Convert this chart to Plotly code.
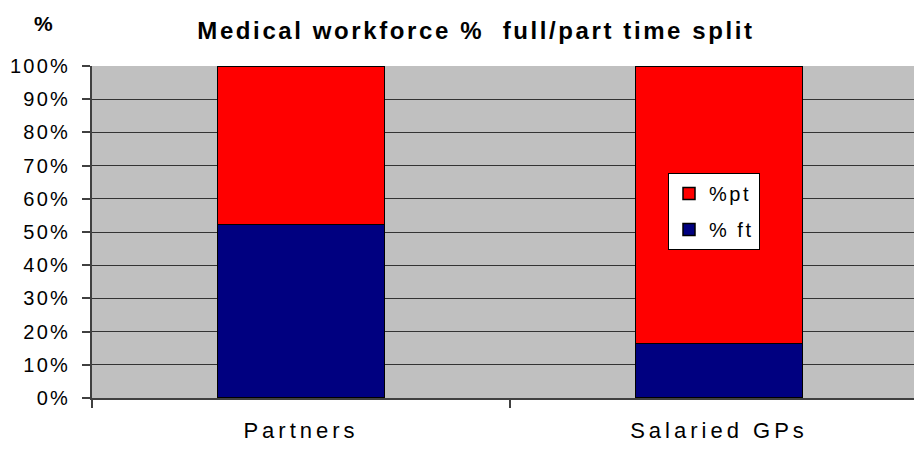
import plotly.graph_objects as go

categories = ["Partners", "Salaried GPs"]
pct_ft = [0.523, 0.164]
pct_pt = [0.477, 0.836]
y_tick_values = [0, 0.1, 0.2, 0.3, 0.4, 0.5, 0.6, 0.7, 0.8, 0.9, 1.0]
y_tick_labels = ["0%", "10%", "20%", "30%", "40%", "50%", "60%", "70%", "80%", "90%", "100%"]
series_names = ["% ft", "%pt"]
title_text = "Medical workforce %  full/part time split"
y_title = "%"

FONT = "Liberation Sans, Arial, sans-serif"
OFF = 8  # page body margin offset


def spaced(t, px):
    return '<span style="letter-spacing:%spx">%s</span>' % (px, t)


fig = go.Figure()
fig.add_trace(go.Bar(
    x=categories, y=pct_ft, name=spaced(series_names[0], 2.5), legendrank=2, legendgroup="ft",
    marker=dict(color="#000080", line=dict(color="#000000", width=1.5)),
    width=0.4,
))
fig.add_trace(go.Bar(
    x=categories, y=pct_pt, name=spaced(series_names[1], 2.5), legendrank=1, legendgroup="pt",
    marker=dict(color="#FF0000", line=dict(color="#000000", width=1.5)),
    width=0.4,
))

fig.update_layout(
    width=922, height=450,
    barmode="stack",
    paper_bgcolor="white",
    plot_bgcolor="#C0C0C0",
    margin=dict(l=92 - OFF, r=OFF, t=66 - OFF, b=52 + OFF, pad=0, autoexpand=False),
    font=dict(family=FONT, size=19, color="#000000"),
    title=dict(
        text="<b>" + spaced(title_text, 2.6) + "</b>",
        x=(476 - OFF) / 922, xref="container", xanchor="center",
        y=1 - (31 - OFF) / 450, yref="container", yanchor="middle",
        font=dict(family=FONT, size=24, color="#000000"),
        automargin=False,
    ),
    legend=dict(
        x=(668 - 92) / 830, y=(398 - 173) / 332, xanchor="left", yanchor="top",
        bgcolor="white", bordercolor="#000000", borderwidth=1,
        traceorder="grouped", tracegroupgap=7,
        font=dict(family=FONT, size=20, color="#000000"),
    ),
    showlegend=True,
    annotations=[dict(
        text="<b>" + y_title + "</b>", xref="paper", yref="paper",
        x=(43 - 92) / 830, y=(398 - 24) / 332, xanchor="center", yanchor="middle",
        showarrow=False, font=dict(family=FONT, size=21, color="#000000"),
    )],
)

fig.update_xaxes(
    type="category",
    range=[-0.5, -0.5 + 830 / 418],
    automargin=False,
    showgrid=False,
    showline=True, linecolor="#404040", linewidth=2,
    ticks="outside", tickson="boundaries", ticklen=8, tickcolor="#404040", tickwidth=2,
    tickvals=categories, ticktext=[spaced(c, 4) for c in categories],
    tickfont=dict(family=FONT, size=22, color="#000000"),
    ticklabelstandoff=12,
)
fig.update_yaxes(
    range=[0, 1],
    automargin=False,
    tickvals=y_tick_values,
    ticktext=[spaced(t, 2.2) for t in y_tick_labels],
    showgrid=True, gridcolor="#333333", gridwidth=1,
    zeroline=False,
    showline=True, linecolor="#404040", linewidth=2,
    ticks="outside", ticklen=8, tickcolor="#404040", tickwidth=2,
    tickfont=dict(family=FONT, size=20, color="#000000"),
    ticklabelstandoff=8,
)

fig.write_html("out.html")
